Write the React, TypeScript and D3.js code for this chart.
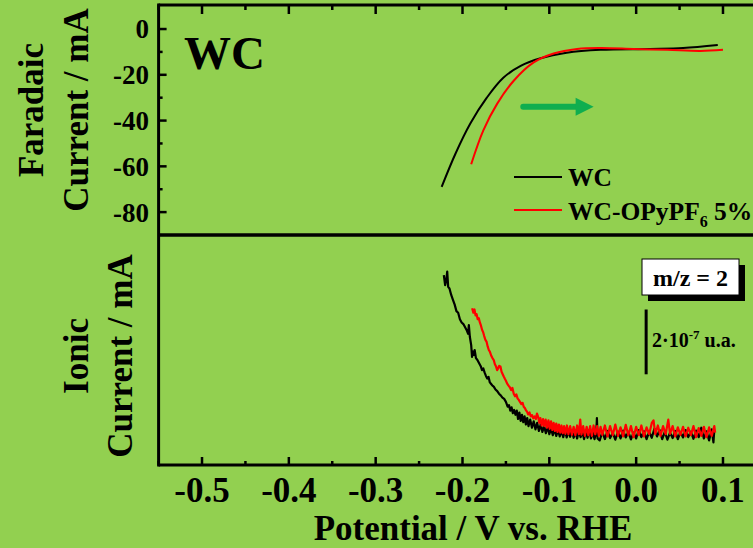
import React from "react";
import * as d3 from "d3";

// ---------- Data ----------
const xTicks = [-0.5, -0.4, -0.3, -0.2, -0.1, 0.0, 0.1];
const xMinorTicks = [-0.55, -0.45, -0.35, -0.25, -0.15, -0.05, 0.05];
const yFaradaicTicks = [0, -20, -40, -60, -80];
const yFaradaicMinor = [-10, -30, -50, -70];

const wcFaradaicV = [-0.224, -0.208, -0.191, -0.172, -0.153, -0.133, -0.11, -0.08, -0.041, 0.016, 0.054, 0.094];
const wcFaradaicI = [-69, -54.4, -41.3, -30, -21.3, -16.1, -12.8, -10.4, -9.1, -8.7, -8.3, -7.0];

const opyFaradaicV = [-0.19, -0.176, -0.16, -0.141, -0.118, -0.095, -0.068, -0.041, -0.003, 0.036, 0.074, 0.1];
const opyFaradaicI = [-59.1, -44.3, -32.6, -22.6, -14.6, -10.7, -8.7, -8.3, -8.7, -9.1, -9.6, -9.1];

// Ionic current (m/z = 2), units of 1e-7 a.u.
const wcIonicV = [
  -0.2215, -0.22, -0.2185, -0.2176, -0.2165, -0.215, -0.213, -0.211, -0.209, -0.207, -0.205, -0.203, -0.201,
  -0.199, -0.197, -0.195, -0.1935, -0.1927, -0.1915, -0.19, -0.189, -0.188, -0.187, -0.186, -0.1845, -0.183,
  -0.181, -0.179, -0.1775, -0.176, -0.1745, -0.173, -0.1715, -0.17, -0.1685, -0.167, -0.1655, -0.164, -0.162,
  -0.16, -0.158, -0.156, -0.154, -0.152, -0.15, -0.148, -0.1465, -0.145, -0.1435, -0.142, -0.1405, -0.139,
  -0.1375, -0.136, -0.1345, -0.133, -0.1315, -0.13, -0.1285, -0.127, -0.1255, -0.124, -0.122, -0.12, -0.118,
  -0.116, -0.114, -0.112, -0.11, -0.108, -0.106, -0.104, -0.102, -0.1, -0.098, -0.096, -0.094, -0.092, -0.09,
  -0.088, -0.086, -0.084, -0.082, -0.08, -0.078, -0.076, -0.074, -0.072, -0.07, -0.068, -0.066, -0.064, -0.062,
  -0.06, -0.058, -0.056, -0.054, -0.052, -0.05, -0.048, -0.046, -0.0452, -0.0444, -0.042, -0.039, -0.036, -0.033,
  -0.03, -0.027, -0.024, -0.021, -0.018, -0.015, -0.012, -0.009, -0.006, -0.003, 0.0, 0.003, 0.006, 0.009, 0.012,
  0.015, 0.018, 0.021, 0.024, 0.027, 0.03, 0.033, 0.036, 0.039, 0.042, 0.045, 0.048, 0.051, 0.054, 0.057, 0.06,
  0.063, 0.066, 0.069, 0.072, 0.075, 0.078, 0.081, 0.084, 0.087, 0.089, 0.09,
];
const wcIonicI = [
  5.86, 5.55, 5.75, 5.97, 5.5, 5.45, 5.25, 5.1, 4.95, 4.75, 4.7, 4.5, 4.4,
  4.35, 4.25, 4.15, 4.05, 4.32, 3.95, 3.7, 3.34, 3.5, 3.4, 3.55, 3.3, 3.25,
  3.15, 3.05, 2.93, 2.98, 2.85, 2.75, 2.67, 2.72, 2.55, 2.5, 2.45, 2.42, 2.33,
  2.28, 2.2, 2.15, 2.08, 2.04, 1.95, 1.8, 1.85, 1.68, 1.78, 1.6, 1.7, 1.55,
  1.68, 1.42, 1.62, 1.36, 1.55, 1.32, 1.5, 1.25, 1.45, 1.2, 1.4, 1.15, 1.35,
  1.1, 1.3, 1.05, 1.25, 1.02, 1.2, 0.98, 1.18, 0.95, 1.12, 0.92, 1.1, 0.9, 1.08,
  0.88, 1.06, 0.86, 1.08, 0.85, 1.05, 0.87, 1.06, 0.84, 1.03, 0.82, 1.05, 0.86, 1.02,
  0.8, 1.04, 0.84, 1.08, 0.82, 1.0, 0.8, 0.99, 1.45, 0.82, 0.76, 1.02, 0.8, 1.05,
  0.83, 1.0, 0.78, 1.03, 0.82, 1.06, 0.85, 1.02, 0.79, 1.0, 0.82, 1.08, 0.86, 1.04, 0.8,
  1.02, 0.84, 1.12, 0.88, 1.08, 0.8, 1.02, 0.78, 1.0, 0.83, 1.05, 0.8, 1.02, 0.85, 1.08, 0.86,
  1.03, 0.81, 1.06, 0.86, 1.15, 0.82, 1.04, 0.76, 1.1, 0.7, 1.08,
];

const opyIonicV = [
  -0.1889, -0.1875, -0.1862, -0.185, -0.1838, -0.1825, -0.1812, -0.18, -0.1787, -0.1774, -0.1762, -0.175,
  -0.1736, -0.1722, -0.171, -0.1697, -0.1685, -0.167, -0.1655, -0.164, -0.1628, -0.1615, -0.1601, -0.159,
  -0.1578, -0.1563, -0.155, -0.1537, -0.1525, -0.1512, -0.15, -0.1487, -0.147, -0.1455, -0.144, -0.1425,
  -0.141, -0.1395, -0.138, -0.1365, -0.1352, -0.1338, -0.1322, -0.1308, -0.1295, -0.128, -0.1268, -0.1257,
  -0.1243, -0.1228, -0.1214, -0.1199, -0.1185, -0.117, -0.1155, -0.1142, -0.1128, -0.1115, -0.1103, -0.1088,
  -0.1072, -0.1058, -0.1042, -0.1027, -0.101, -0.0995, -0.098, -0.0965, -0.095, -0.0935, -0.092, -0.0905,
  -0.089, -0.0874, -0.086, -0.0845, -0.083, -0.0815, -0.0797, -0.078, -0.076, -0.074, -0.072, -0.07, -0.068,
  -0.066, -0.0644, -0.063, -0.061, -0.059, -0.057, -0.055, -0.053, -0.051, -0.049, -0.047, -0.045, -0.043,
  -0.041, -0.039, -0.036, -0.033, -0.03, -0.027, -0.024, -0.021, -0.018, -0.015, -0.012, -0.009, -0.006,
  -0.003, 0.0, 0.003, 0.006, 0.009, 0.012, 0.015, 0.018, 0.02, 0.022, 0.025, 0.028, 0.031, 0.034, 0.037,
  0.039, 0.042, 0.045, 0.048, 0.051, 0.054, 0.057, 0.06, 0.063, 0.066, 0.069, 0.072, 0.075, 0.078, 0.081,
  0.084, 0.087, 0.09, 0.091,
];
const opyIonicI = [
  4.84, 4.7, 4.8, 4.62, 4.66, 4.5, 4.53, 4.4, 4.3, 4.17, 4.1, 3.98,
  3.86, 3.8, 3.66, 3.55, 3.5, 3.38, 3.3, 3.24, 3.12, 3.05, 2.93, 2.98,
  3.06, 3.04, 2.88, 2.8, 2.73, 2.66, 2.6, 2.52, 2.45, 2.4, 2.31, 2.38,
  2.2, 2.12, 2.18, 2.05, 2.01, 1.95, 1.88, 1.92, 1.8, 1.75, 1.68, 1.65,
  1.56, 1.62, 1.5, 1.54, 1.44, 1.5, 1.42, 1.59, 1.48, 1.3, 1.45, 1.22,
  1.42, 1.2, 1.4, 1.15, 1.38, 1.12, 1.35, 1.08, 1.3, 1.05, 1.28, 1.02,
  1.25, 1.0, 1.22, 0.98, 1.2, 0.96, 1.22, 0.95, 1.2, 0.93, 1.18, 0.92, 1.22,
  0.95, 1.4, 0.94, 1.2, 0.9, 1.18, 0.92, 1.2, 0.9, 1.22, 0.95, 1.2, 0.9,
  1.18, 0.93, 1.22, 0.88, 1.2, 0.92, 1.25, 0.9, 1.16, 0.88, 1.24, 0.92, 1.2,
  0.86, 1.18, 0.92, 1.22, 0.88, 1.16, 0.95, 1.3, 1.38, 0.95, 1.22, 0.9, 1.2, 0.95, 1.4,
  0.96, 1.2, 0.88, 1.16, 0.93, 1.18, 0.88, 1.15, 0.92, 1.2, 0.86, 1.14, 0.9, 1.18, 0.86,
  1.16, 0.9, 1.2, 1.0,
];

// ---------- Layout ----------
const W = 753;
const H = 548;
const BG = "#92d050";
const FONT = "'Liberation Serif', 'Times New Roman', serif";

const xScale = d3.scaleLinear().domain([-0.55, 0.15]).range([158.6, 766.4]);
const yTop = d3.scaleLinear().domain([-90, 10.5]).range([235, 5]);
const yBot = d3.scaleLinear().domain([0, 7.1]).range([465, 235]);

const left = xScale(-0.55);
const topY = yTop(10.5);
const midY = yTop(-90);
const botY = yBot(0);

type P = [number, number];
const zip = (a: number[], b: number[]): P[] => a.map((v, i) => [v, b[i]] as P);

const lineTop = d3
  .line<P>()
  .x((d) => xScale(d[0]))
  .y((d) => yTop(d[1]))
  .curve(d3.curveCatmullRom.alpha(0.5));
const lineBot = d3
  .line<P>()
  .x((d) => xScale(d[0]))
  .y((d) => yBot(d[1]));

export default function App() {
  const arrowY = yTop(-34);
  const ax0 = xScale(-0.13);
  const ax1 = xScale(-0.049);
  const sbX = xScale(0.0115);
  return (
    <svg
      width={W}
      height={H}
      style={{ position: "absolute", left: 0, top: 0, display: "block" }}
      fontFamily={FONT}
      fontWeight="bold"
    >
      <rect x={0} y={0} width={W} height={H} fill={BG} />

      {/* data */}
      <path d={lineTop(zip(wcFaradaicV, wcFaradaicI)) || ""} fill="none" stroke="#000" strokeWidth={2} />
      <path d={lineTop(zip(opyFaradaicV, opyFaradaicI)) || ""} fill="none" stroke="#ff0000" strokeWidth={2} />
      <path d={lineBot(zip(wcIonicV, wcIonicI)) || ""} fill="none" stroke="#000" strokeWidth={2.2} strokeLinejoin="round" />
      <path d={lineBot(zip(opyIonicV, opyIonicI)) || ""} fill="none" stroke="#ff0000" strokeWidth={2.2} strokeLinejoin="round" />

      {/* frame */}
      <line x1={left} x2={W + 20} y1={topY} y2={topY} stroke="#000" strokeWidth={3} />
      <line x1={left} x2={W + 20} y1={midY} y2={midY} stroke="#000" strokeWidth={3.5} />
      <line x1={left} x2={W + 20} y1={botY} y2={botY} stroke="#000" strokeWidth={3} />
      <line x1={left} x2={left} y1={topY - 1.5} y2={botY + 1.5} stroke="#000" strokeWidth={3} />

      {/* top ticks */}
      {xTicks.map((t) => (
        <line key={"tt" + t} x1={xScale(t)} x2={xScale(t)} y1={topY} y2={topY + 9} stroke="#000" strokeWidth={2.5} />
      ))}
      {xMinorTicks.map((t) => (
        <line key={"tm" + t} x1={xScale(t)} x2={xScale(t)} y1={topY} y2={topY + 5} stroke="#000" strokeWidth={2.5} />
      ))}
      {/* bottom ticks */}
      {xTicks.map((t) => (
        <line key={"bt" + t} x1={xScale(t)} x2={xScale(t)} y1={botY} y2={botY - 8} stroke="#000" strokeWidth={2.5} />
      ))}
      {xMinorTicks.map((t) => (
        <line key={"bm" + t} x1={xScale(t)} x2={xScale(t)} y1={botY} y2={botY - 4} stroke="#000" strokeWidth={2.5} />
      ))}
      {/* left ticks top panel */}
      {yFaradaicTicks.map((t) => (
        <line key={"lt" + t} x1={left} x2={left + 8} y1={yTop(t)} y2={yTop(t)} stroke="#000" strokeWidth={2.5} />
      ))}
      {yFaradaicMinor.map((t) => (
        <line key={"lm" + t} x1={left} x2={left + 4} y1={yTop(t)} y2={yTop(t)} stroke="#000" strokeWidth={2.5} />
      ))}

      {/* tick labels */}
      {yFaradaicTicks.map((t) => (
        <text key={"yl" + t} x={149} y={yTop(t)} dy="0.35em" textAnchor="end" fontSize={27}>
          {t === 0 ? "0" : String(t)}
        </text>
      ))}
      {xTicks.map((t) => (
        <text key={"xl" + t} x={xScale(t)} y={502} textAnchor="middle" fontSize={35}>
          {t.toFixed(1)}
        </text>
      ))}

      {/* axis titles */}
      <text x={473} y={540} textAnchor="middle" fontSize={35}>
        Potential / V vs. RHE
      </text>
      <text transform={`translate(43,110) rotate(-90)`} textAnchor="middle" fontSize={35}>
        Faradaic
      </text>
      <text transform={`translate(88,110) rotate(-90)`} textAnchor="middle" fontSize={35}>
        Current / mA
      </text>
      <text transform={`translate(88,356) rotate(-90)`} textAnchor="middle" fontSize={35}>
        Ionic
      </text>
      <text transform={`translate(132,356) rotate(-90)`} textAnchor="middle" fontSize={35}>
        Current / mA
      </text>

      {/* panel label */}
      <text x={184} y={69} fontSize={47}>
        WC
      </text>

      {/* arrow */}
      <line x1={ax0} x2={ax1 - 16} y1={arrowY} y2={arrowY} stroke="#0fae4f" strokeWidth={6} strokeLinecap="round" />
      <path
        d={`M${ax1 - 18},${arrowY - 9} L${ax1},${arrowY} L${ax1 - 18},${arrowY + 9} Z`}
        fill="#0fae4f"
      />

      {/* legend */}
      <line x1={514} x2={562} y1={177} y2={177} stroke="#000" strokeWidth={2} />
      <text x={568} y={186} fontSize={25.5}>
        WC
      </text>
      <line x1={514} x2={562} y1={210} y2={210} stroke="#ff0000" strokeWidth={2} />
      <text x={568} y={220} fontSize={25.5}>
        WC-OPyPF
        <tspan fontSize={16} dy={7}>
          6
        </tspan>
        <tspan dy={-7}> 5%</tspan>
      </text>

      {/* m/z label box */}
      <rect x={648} y={265} width={97} height={36} fill="#000" />
      <rect x={642} y={259} width={97} height={36} fill="#fff" stroke="#000" strokeWidth={1} />
      <text x={690.5} y={286} textAnchor="middle" fontSize={24}>
        m/z = 2
      </text>

      {/* scale bar */}
      <line x1={sbX} x2={sbX} y1={yBot(2.8)} y2={yBot(4.8)} stroke="#000" strokeWidth={3} />
      <text x={652} y={347} fontSize={20}>
        2·10
        <tspan fontSize={13} dy={-8}>
          -7
        </tspan>
        <tspan dy={8}> u.a.</tspan>
      </text>
    </svg>
  );
}
